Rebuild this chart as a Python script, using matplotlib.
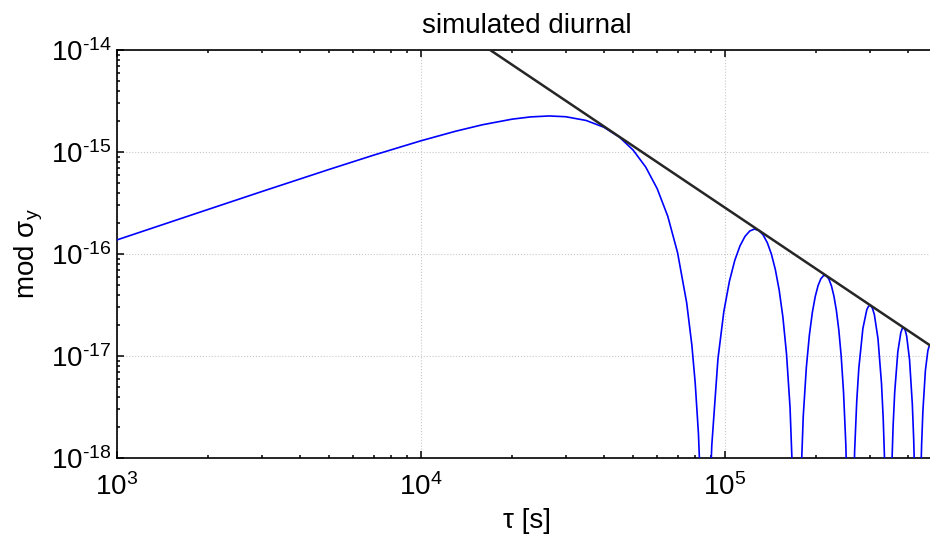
import matplotlib
matplotlib.use("Agg")
import matplotlib.pyplot as plt
from matplotlib.ticker import FuncFormatter
import numpy as np

plt.rcParams['font.family'] = ['Liberation Sans', 'DejaVu Sans']
plt.rcParams['mathtext.fontset'] = 'custom'
plt.rcParams['mathtext.rm'] = 'Liberation Sans'
plt.rcParams['mathtext.it'] = 'Liberation Sans:italic'
plt.rcParams['axes.unicode_minus'] = False

# averaging time tau [s] and mod sigma_y
tau_s = [
    1000, 2000, 3000, 5000, 7000, 10000, 13000, 16000, 20000, 23000, 26500,
    30000, 35000, 40000, 45000, 50000, 55000, 60000, 65000, 70000, 75000,
    78000, 80000, 82000, 84000,
    88992, 90720, 95040, 99360, 103680, 108000, 112320, 116640, 120960,
    125280, 129600, 133920, 138240, 142560, 146880, 151200, 155520, 159840,
    164160, 168480, 171072,
    175392, 177120, 181440, 185760, 190080, 194400, 198720, 203040, 207360,
    211680, 216000, 220320, 224640, 228960, 233280, 237600, 241920, 246240,
    250560, 254880, 256608,
    261792, 263520, 267840, 272160, 276480, 285120, 293760, 298080, 302400,
    306720, 311040, 319680, 328320, 332640, 336960, 341280, 343008,
    349632, 351360, 354240, 358560, 362880, 371520, 380160, 384480, 388800,
    393120, 397440, 406080, 414720, 419040, 423360, 427680, 429408,
    434592, 436320, 440640, 444960, 449280, 457920, 466560, 470880, 475200,
    479520,
]
mod_sigma_y = [
    1.375e-16, 2.742e-16, 4.10e-16, 6.76e-16, 9.32e-16, 1.287e-15, 1.597e-15,
    1.853e-15, 2.10e-15, 2.209e-15, 2.256e-15,
    2.217e-15, 2.038e-15, 1.751e-15, 1.403e-15, 1.043e-15, 7.11e-16, 4.36e-16,
    2.34e-16, 1.03e-16, 3.32e-17,
    1.279e-17, 5.45e-18, 1.726e-18, 2.69e-19,
    3.01e-19, 1.329e-18, 9.34e-18, 2.71e-17, 5.40e-17, 8.67e-17, 1.200e-16,
    1.486e-16, 1.681e-16,
    1.755e-16, 1.702e-16, 1.536e-16, 1.287e-16, 9.95e-17, 7.02e-17, 4.42e-17,
    2.40e-17, 1.047e-17,
    3.13e-18, 3.85e-19, 8.2e-20,
    7.74e-20, 3.49e-19, 2.563e-18, 7.75e-18, 1.607e-17, 2.675e-17, 3.834e-17,
    4.906e-17, 5.72e-17,
    6.148e-17, 6.128e-17, 5.675e-17, 4.874e-17, 3.858e-17, 2.782e-17,
    1.791e-17, 9.92e-18, 4.413e-18,
    1.344e-18, 1.684e-19, 3.62e-20,
    3.48e-20, 1.576e-19, 1.176e-18, 3.612e-18, 7.597e-18, 1.862e-17,
    2.850e-17, 3.100e-17, 3.127e-17,
    2.928e-17, 2.542e-17, 1.481e-17, 5.387e-18, 2.418e-18, 7.43e-19, 9.39e-20,
    2.02e-20,
    1.96e-20, 8.94e-20, 6.72e-19, 2.081e-18, 4.410e-18, 1.097e-17, 1.702e-17,
    1.863e-17, 1.891e-17,
    1.782e-17, 1.557e-17, 9.18e-18, 3.376e-18, 1.524e-18, 4.71e-19, 5.98e-20,
    1.29e-20,
    1.26e-20, 5.75e-20, 4.35e-19, 1.351e-18, 2.877e-18, 7.22e-18, 1.130e-17,
    1.242e-17, 1.266e-17,
    1.198e-17,
]

# tau^-2 envelope (black line)
envelope_tau = [1e4, 5e5]
envelope_sigma = [2.86e-14, 1.144e-17]

x_ticks = [1e3, 1e4, 1e5]
y_ticks = [1e-18, 1e-17, 1e-16, 1e-15, 1e-14]


def pow10_label(v, pos):
    # short hyphen in the exponent, like the reference
    n = int(round(np.log10(v)))
    exp = str(n).replace('-', '\u2010')
    return '$\\mathregular{10^{%s}}$' % exp


fig = plt.figure(figsize=(9.3, 5.36), dpi=100)
# axes run a little past the right edge of the picture (right spine hidden)
ax = fig.add_axes([117 / 930, 78 / 536, 820 / 930, 408 / 536])

ax.loglog(tau_s, mod_sigma_y, color='#0000ff', lw=1.2, zorder=3)
ax.loglog(envelope_tau, envelope_sigma, color='#262626', lw=1.8, zorder=4)

ax.set_xlim(1e3, 5e5)
ax.set_ylim(1e-18, 1e-14)
ax.set_xticks(x_ticks)
ax.set_yticks(y_ticks)
ax.xaxis.set_major_formatter(FuncFormatter(pow10_label))
ax.yaxis.set_major_formatter(FuncFormatter(pow10_label))

ax.grid(True, which='major', color='#c8c8c8', linestyle=':', linewidth=0.8)
ax.tick_params(which='both', direction='in', top=True, right=True, width=1.1)
ax.tick_params(which='major', length=5, labelsize=20)
ax.tick_params(axis='x', which='major', pad=11)
ax.tick_params(axis='y', which='major', pad=4)
ax.tick_params(which='minor', length=2.5)
for s in ax.spines.values():
    s.set_linewidth(1.2)

ax.set_title('simulated diurnal', fontsize=20, pad=12)
ax.set_xlabel('τ [s]', fontsize=20, labelpad=5)
ax.set_ylabel('mod σ$_\\mathregular{y}$', fontsize=20)
ax.yaxis.set_label_coords(-0.088, 0.5)

fig.savefig('out.png', dpi=100)
